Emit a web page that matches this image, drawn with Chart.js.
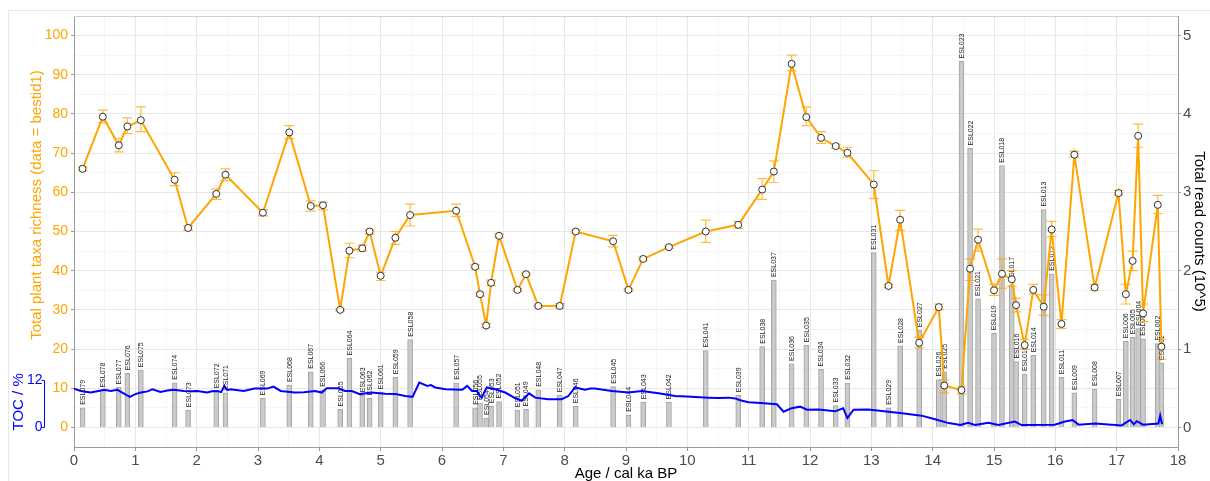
<!DOCTYPE html>
<html>
<head>
<meta charset="utf-8">
<title>Plant taxa richness, read counts and TOC</title>
<script src="https://cdn.jsdelivr.net/npm/chart.js@4.4.1/dist/chart.umd.min.js"></script>
<style>
  html, body { margin: 0; padding: 0; background: #ffffff; }
  #wrap { width: 1210px; height: 481px; position: relative; }
</style>
</head>
<body>
<div id="wrap"><canvas id="chart" width="1210" height="481"></canvas></div>
<script>
// ---- sample data (ordered by age) ----
const sampleIds = [
  'ESL079','ESL078','ESL077','ESL076','ESL075','ESL074','ESL073','ESL072','ESL071','ESL069',
  'ESL068','ESL067','ESL066','ESL065','ESL064','ESL063','ESL062','ESL061','ESL059','ESL058',
  'ESL057','ESL056','ESL055','ESL054','ESL053','ESL052','ESL051','ESL049','ESL048','ESL047',
  'ESL046','ESL045','ESL044','ESL043','ESL042','ESL041','ESL039','ESL038','ESL037','ESL036',
  'ESL035','ESL034','ESL033','ESL032','ESL031','ESL029','ESL028','ESL027','ESL026','ESL025',
  'ESL023','ESL022','ESL021','ESL019','ESL018','ESL017','ESL016','ESL015','ESL014','ESL013',
  'ESL012','ESL011','ESL009','ESL008','ESL007','ESL006','ESL005','ESL004','ESL003','ESL002',
  'ESL001'
];
// age in cal ka BP
const sampleAges = [
  0.14, 0.47, 0.73, 0.87, 1.09, 1.64, 1.86, 2.32, 2.47, 3.08,
  3.51, 3.86, 4.06, 4.34, 4.49, 4.70, 4.82, 5.00, 5.24, 5.48,
  6.23, 6.54, 6.62, 6.72, 6.80, 6.93, 7.23, 7.37, 7.57, 7.92,
  8.18, 8.79, 9.04, 9.28, 9.70, 10.30, 10.83, 11.22, 11.41, 11.70,
  11.94, 12.18, 12.42, 12.61, 13.04, 13.28, 13.47, 13.78, 14.10, 14.19,
  14.47, 14.61, 14.74, 15.00, 15.13, 15.29, 15.36, 15.50, 15.64, 15.81,
  15.94, 16.10, 16.31, 16.64, 17.03, 17.15, 17.26, 17.35, 17.43, 17.67,
  17.73
];
// total plant taxa richness (bestid1) with its lower / upper range
const richness = [
  66.0, 79.3, 72.0, 76.8, 78.4, 63.2, 50.9, 59.6, 64.5, 54.8,
  75.3, 56.5, 56.7, 30.0, 45.1, 45.7, 50.0, 38.7, 48.4, 54.2,
  55.3, 41.0, 34.0, 26.0, 36.9, 48.9, 35.1, 39.1, 31.0, 31.0,
  50.0, 47.5, 35.1, 43.0, 46.0, 50.0, 51.7, 60.7, 65.3, 92.8,
  79.2, 73.9, 71.8, 70.1, 62.0, 36.1, 53.0, 21.6, 30.7, 10.7,
  9.5, 40.5, 47.9, 35.0, 39.2, 37.8, 31.2, 21.0, 35.1, 30.8,
  50.5, 26.4, 69.6, 35.7, 59.8, 34.0, 42.5, 74.4, 29.1, 56.8,
  20.6
];
const richnessLow = [
  65.5, 77.8, 70.3, 75.0, 75.5, 61.7, 50.3, 58.2, 63.0, 54.0,
  73.7, 55.2, 55.5, 29.7, 43.3, 45.0, 49.4, 37.5, 46.7, 51.4,
  53.8, 40.5, 33.5, 25.5, 36.2, 48.4, 34.8, 38.8, 30.8, 30.4,
  49.6, 46.1, 34.8, 42.5, 45.7, 47.2, 50.8, 58.2, 62.5, 91.0,
  77.0, 72.5, 71.3, 69.0, 58.4, 35.7, 50.3, 20.3, 30.0, 8.8,
  8.5, 37.5, 45.0, 33.7, 35.5, 36.0, 29.5, 20.0, 34.0, 28.6,
  48.7, 25.3, 69.0, 35.0, 59.3, 31.5, 40.0, 71.5, 27.0, 54.6,
  17.4
];
const richnessHigh = [
  66.5, 81.0, 73.8, 79.0, 81.8, 65.0, 51.5, 60.9, 66.0, 55.6,
  77.0, 57.8, 57.5, 30.3, 47.0, 46.5, 50.4, 39.6, 50.0, 57.0,
  57.0, 41.5, 34.5, 26.5, 37.6, 49.4, 35.4, 39.4, 31.2, 31.6,
  50.4, 49.0, 35.4, 43.5, 46.3, 52.9, 52.6, 63.5, 68.0, 95.0,
  81.8, 75.5, 72.3, 71.5, 65.5, 36.5, 55.4, 23.0, 31.5, 12.1,
  10.5, 43.0, 50.6, 36.5, 43.0, 40.0, 33.0, 22.5, 36.5, 33.8,
  52.6, 27.5, 70.5, 36.5, 60.5, 36.5, 45.0, 77.4, 31.5, 59.2,
  22.5
];
// total read counts, in units of 10^5
const readCounts = [
  0.25, 0.47, 0.51, 0.69, 0.73, 0.57, 0.22, 0.46, 0.44, 0.37,
  0.54, 0.71, 0.48, 0.23, 0.88, 0.41, 0.37, 0.45, 0.64, 1.12,
  0.57, 0.25, 0.31, 0.12, 0.27, 0.33, 0.22, 0.23, 0.48, 0.41,
  0.27, 0.52, 0.16, 0.32, 0.32, 0.98, 0.41, 1.03, 1.88, 0.81,
  1.05, 0.74, 0.28, 0.57, 2.23, 0.25, 1.04, 1.24, 0.61, 0.71,
  4.67, 3.56, 1.64, 1.20, 3.34, 1.82, 0.84, 0.68, 0.92, 2.78,
  1.96, 0.64, 0.44, 0.49, 0.36, 1.10, 1.15, 1.26, 1.13, 1.07,
  0.82
];

// ---- total organic carbon record ----
const tocAges = [
  0.00, 0.11, 0.27, 0.40, 0.49, 0.60, 0.71, 0.815, 0.91, 1.00,
  1.09, 1.20, 1.28, 1.41, 1.52, 1.63, 1.79, 1.90, 2.01, 2.17,
  2.25, 2.34, 2.40, 2.45, 2.50, 2.55, 2.77, 2.94, 3.15, 3.25,
  3.37, 3.60, 3.75, 3.93, 4.04, 4.12, 4.31, 4.42, 4.53, 4.66,
  4.85, 5.07, 5.24, 5.40, 5.52, 5.63, 5.76, 5.82, 5.89, 6.06,
  6.33, 6.41, 6.49, 6.57, 6.61, 6.65, 6.69, 6.73, 6.87, 7.03,
  7.19, 7.30, 7.42, 7.52, 7.73, 7.95, 8.06, 8.17, 8.33, 8.42,
  8.49, 8.77, 9.04, 9.26, 9.53, 9.80, 10.07, 10.34, 10.50, 10.67,
  10.78, 10.86, 11.00, 11.20, 11.46, 11.57, 11.70, 11.84, 11.95, 12.14,
  12.41, 12.54, 12.61, 12.71, 12.95, 13.17, 13.50, 13.82, 14.04, 14.26,
  14.36, 14.45, 14.58, 14.69, 14.91, 15.07, 15.34, 15.45, 15.99, 16.16,
  16.28, 16.38, 16.65, 17.08, 17.22, 17.28, 17.33, 17.43, 17.68, 17.71,
  17.74
];
const tocPercent = [
  9.9, 9.3, 8.9, 9.3, 9.6, 9.3, 9.6, 8.65, 7.8, 8.5,
  8.9, 9.2, 9.75, 9.06, 9.4, 9.6, 9.3, 9.2, 9.3, 8.9,
  9.2, 9.3, 9.0, 10.6, 9.5, 9.75, 9.3, 9.9, 9.9, 10.4,
  9.3, 8.9, 9.0, 9.3, 8.9, 10.0, 10.0, 9.3, 9.3, 8.5,
  8.9, 8.6, 8.5, 8.0, 7.8, 11.45, 10.6, 10.8, 10.2, 9.75,
  9.6, 10.6, 9.3, 9.3, 8.2, 7.6, 9.0, 10.2, 9.75, 8.9,
  7.5, 6.8, 8.7, 7.6, 7.2, 7.2, 8.0, 10.2, 9.6, 9.9,
  9.9, 9.3, 8.9, 9.3, 8.7, 8.0, 7.8, 7.6, 7.5, 7.6,
  7.4, 6.95, 6.4, 6.2, 5.9, 4.0, 4.9, 5.3, 4.5, 4.6,
  4.1, 4.9, 2.4, 4.5, 4.6, 4.2, 3.6, 3.0, 2.1, 1.1,
  0.85, 0.6, 1.2, 0.6, 1.2, 0.6, 1.5, 0.6, 0.7, 1.5,
  1.9, 0.7, 1.0, 0.5, 1.9, 0.8, 1.6, 0.7, 1.0, 3.0,
  0.8
];

// ---- axis breaks ----
const ageTicks = [0,1,2,3,4,5,6,7,8,9,10,11,12,13,14,15,16,17,18];
const richnessTicks = [0,10,20,30,40,50,60,70,80,90,100];
const readTicks = [0,1,2,3,4,5];
const tocTicks = [0, 12];

// ---- styling ----
const ORANGE = '#FFA500';
const ORANGE_ERR = 'rgba(255,165,0,0.75)';
const BLUE = '#0000FF';
const FONT = "'Liberation Sans', Arial, Helvetica, sans-serif";
const AXIS_GREY = '#9a9a9a';
const TICK_TEXT = '#4d4d4d';

// major breaks plus the midpoints between them
function withMinor(major) {
  const out = [];
  for (let i = 0; i < major.length; i++) {
    out.push(major[i]);
    if (i < major.length - 1) out.push((major[i] + major[i + 1]) / 2);
  }
  return out;
}
const isMajor = (list, v) => list.some(t => Math.abs(t - v) < 1e-9);
const tickIsMajor = (list, c) => !c || !c.tick || isMajor(list, c.tick.value);

// error bars under the richness points
const errorBarPlugin = {
  id: 'errorBars',
  beforeDatasetDraw(chart, args) {
    if (chart.data.datasets[args.index].id !== 'richness') return;
    const { ctx } = chart;
    const xs = chart.scales.x, ys = chart.scales.y;
    ctx.save();
    ctx.strokeStyle = ORANGE_ERR;
    ctx.lineWidth = 1.2;
    const cap = 5;
    for (let i = 0; i < sampleAges.length; i++) {
      const px = xs.getPixelForValue(sampleAges[i]);
      const y0 = ys.getPixelForValue(richnessLow[i]);
      const y1 = ys.getPixelForValue(richnessHigh[i]);
      ctx.beginPath();
      ctx.moveTo(px, y0); ctx.lineTo(px, y1);
      ctx.moveTo(px - cap, y0); ctx.lineTo(px + cap, y0);
      ctx.moveTo(px - cap, y1); ctx.lineTo(px + cap, y1);
      ctx.stroke();
    }
    ctx.restore();
  }
};

// sample names written upwards above each read-count bar
const barLabelPlugin = {
  id: 'barLabels',
  afterDatasetDraw(chart, args) {
    if (chart.data.datasets[args.index].id !== 'reads') return;
    const { ctx } = chart;
    const meta = args.meta;
    ctx.save();
    ctx.font = '7px ' + FONT;
    ctx.fillStyle = '#1a1a1a';
    ctx.textAlign = 'left';
    ctx.textBaseline = 'middle';
    meta.data.forEach((bar, i) => {
      ctx.save();
      ctx.translate(bar.x, bar.y - 3);
      ctx.rotate(-Math.PI / 2);
      ctx.fillText(sampleIds[i], 0, 0.5);
      ctx.restore();
    });
    ctx.restore();
  }
};

// figure frame, panel top edge, left title and the TOC axis
const decorPlugin = {
  id: 'decor',
  beforeDraw(chart) {
    const { ctx } = chart;
    ctx.save();
    ctx.fillStyle = '#ffffff';
    ctx.fillRect(0, 0, chart.width, chart.height);
    ctx.strokeStyle = '#e6e6e6';
    ctx.lineWidth = 1;
    ctx.beginPath();
    ctx.moveTo(8.5, chart.height);
    ctx.lineTo(8.5, 10.5);
    ctx.lineTo(chart.width, 10.5);
    ctx.stroke();
    ctx.restore();
  },
  afterDraw(chart) {
    const { ctx, chartArea } = chart;
    const ys = chart.scales.y;
    ctx.save();
    // top edge of the panel
    ctx.strokeStyle = '#d0d0d0';
    ctx.lineWidth = 1;
    ctx.beginPath();
    ctx.moveTo(chartArea.left, chartArea.top + 0.5);
    ctx.lineTo(chartArea.right, chartArea.top + 0.5);
    ctx.stroke();

    // left axis title
    ctx.fillStyle = ORANGE;
    ctx.font = '15px ' + FONT;
    ctx.textAlign = 'center';
    ctx.textBaseline = 'middle';
    ctx.save();
    ctx.translate(37, 205);
    ctx.rotate(-Math.PI / 2);
    ctx.fillText('Total plant taxa richness (data = bestid1)', 0, 0);
    ctx.restore();

    // TOC axis: bracket from 0 to 12 with its labels
    const yTop = ys.getPixelForValue(tocTicks[tocTicks.length - 1]);
    const yBot = ys.getPixelForValue(tocTicks[0]);
    const bx = 44.5;
    ctx.strokeStyle = BLUE;
    ctx.lineWidth = 1;
    ctx.beginPath();
    ctx.moveTo(bx - 3, yTop); ctx.lineTo(bx, yTop); ctx.lineTo(bx, yBot); ctx.lineTo(bx - 3, yBot);
    ctx.stroke();
    ctx.fillStyle = BLUE;
    ctx.font = '14px ' + FONT;
    ctx.textAlign = 'right';
    tocTicks.forEach(v => ctx.fillText(String(v), bx - 2, ys.getPixelForValue(v)));
    ctx.font = '15px ' + FONT;
    ctx.textAlign = 'center';
    ctx.save();
    ctx.translate(19, (yTop + yBot) / 2 - 2);
    ctx.rotate(-Math.PI / 2);
    ctx.fillText('TOC / %', 0, 0);
    ctx.restore();
    ctx.restore();
  }
};

const ctx = document.getElementById('chart').getContext('2d');
new Chart(ctx, {
  data: {
    datasets: [
      {
        id: 'reads',
        type: 'bar',
        xAxisID: 'x',
        yAxisID: 'yReads',
        data: sampleAges.map((a, i) => ({ x: a, y: readCounts[i] })),
        backgroundColor: 'rgba(200,200,200,0.95)',
        borderColor: '#a6a6a6',
        borderWidth: 1,
        barThickness: 5,
        grouped: false,
        order: 3
      },
      {
        id: 'toc',
        type: 'line',
        xAxisID: 'x',
        yAxisID: 'y',
        data: tocAges.map((a, i) => ({ x: a, y: tocPercent[i] })),
        borderColor: BLUE,
        borderWidth: 2,
        pointRadius: 0,
        tension: 0,
        order: 2
      },
      {
        id: 'richness',
        type: 'line',
        xAxisID: 'x',
        yAxisID: 'y',
        data: sampleAges.map((a, i) => ({ x: a, y: richness[i] })),
        borderColor: ORANGE,
        borderWidth: 2,
        tension: 0,
        pointRadius: 3.5,
        pointBackgroundColor: '#ffffff',
        pointBorderColor: '#333333',
        pointBorderWidth: 1,
        order: 1
      }
    ]
  },
  options: {
    responsive: false,
    animation: false,
    devicePixelRatio: 1,
    layout: { padding: { top: 16, left: 0, right: 0, bottom: 0 } },
    plugins: {
      legend: { display: false },
      tooltip: { enabled: false }
    },
    scales: {
      x: {
        type: 'linear',
        position: 'bottom',
        min: 0,
        max: 18,
        offset: false,
        afterBuildTicks: s => { s.ticks = withMinor(ageTicks).map(v => ({ value: v })); },
        afterFit: s => { s.height = 34; },
        ticks: {
          autoSkip: false,
          maxRotation: 0,
          padding: 1,
          color: TICK_TEXT,
          font: { family: FONT, size: 15 },
          callback: v => isMajor(ageTicks, v) ? String(v) : ''
        },
        grid: {
          offset: false,
          color: c => tickIsMajor(ageTicks, c) ? '#e8e8e8' : '#f4f4f4',
          lineWidth: c => tickIsMajor(ageTicks, c) ? 1 : 0.8,
          tickLength: 4,
          tickColor: c => tickIsMajor(ageTicks, c) ? AXIS_GREY : 'rgba(0,0,0,0)'
        },
        border: { display: true, color: AXIS_GREY, width: 1 },
        title: {
          display: true,
          text: 'Age / cal ka BP',
          color: '#000000',
          font: { family: FONT, size: 15, lineHeight: 1 },
          padding: { top: 0, bottom: 0 }
        }
      },
      y: {
        type: 'linear',
        position: 'left',
        min: -5,
        max: 105,
        afterBuildTicks: s => { s.ticks = withMinor(richnessTicks).map(v => ({ value: v })); },
        afterFit: s => { s.width = 74; },
        ticks: {
          autoSkip: false,
          padding: 3,
          color: ORANGE,
          font: { family: FONT, size: 14 },
          callback: v => isMajor(richnessTicks, v) ? String(v) : ''
        },
        grid: {
          color: c => tickIsMajor(richnessTicks, c) ? '#e8e8e8' : '#f4f4f4',
          lineWidth: c => tickIsMajor(richnessTicks, c) ? 1 : 0.8,
          tickLength: 3,
          tickColor: c => tickIsMajor(richnessTicks, c) ? AXIS_GREY : 'rgba(0,0,0,0)'
        },
        border: { display: true, color: AXIS_GREY, width: 1 }
      },
      yReads: {
        type: 'linear',
        position: 'right',
        min: -0.25,
        max: 5.25,
        afterBuildTicks: s => { s.ticks = readTicks.map(v => ({ value: v })); },
        afterFit: s => { s.width = 32; },
        ticks: {
          autoSkip: false,
          padding: 2,
          color: TICK_TEXT,
          font: { family: FONT, size: 15 },
          callback: v => String(v)
        },
        grid: {
          drawOnChartArea: false,
          tickLength: 3,
          tickColor: AXIS_GREY
        },
        border: { display: true, color: AXIS_GREY, width: 1 },
        title: {
          display: true,
          text: 'Total read counts (10^5)',
          color: '#000000',
          font: { family: FONT, size: 15, lineHeight: 1.2 },
          padding: { top: 2, bottom: 0 }
        }
      }
    }
  },
  plugins: [decorPlugin, errorBarPlugin, barLabelPlugin]
});
</script>
</body>
</html>
